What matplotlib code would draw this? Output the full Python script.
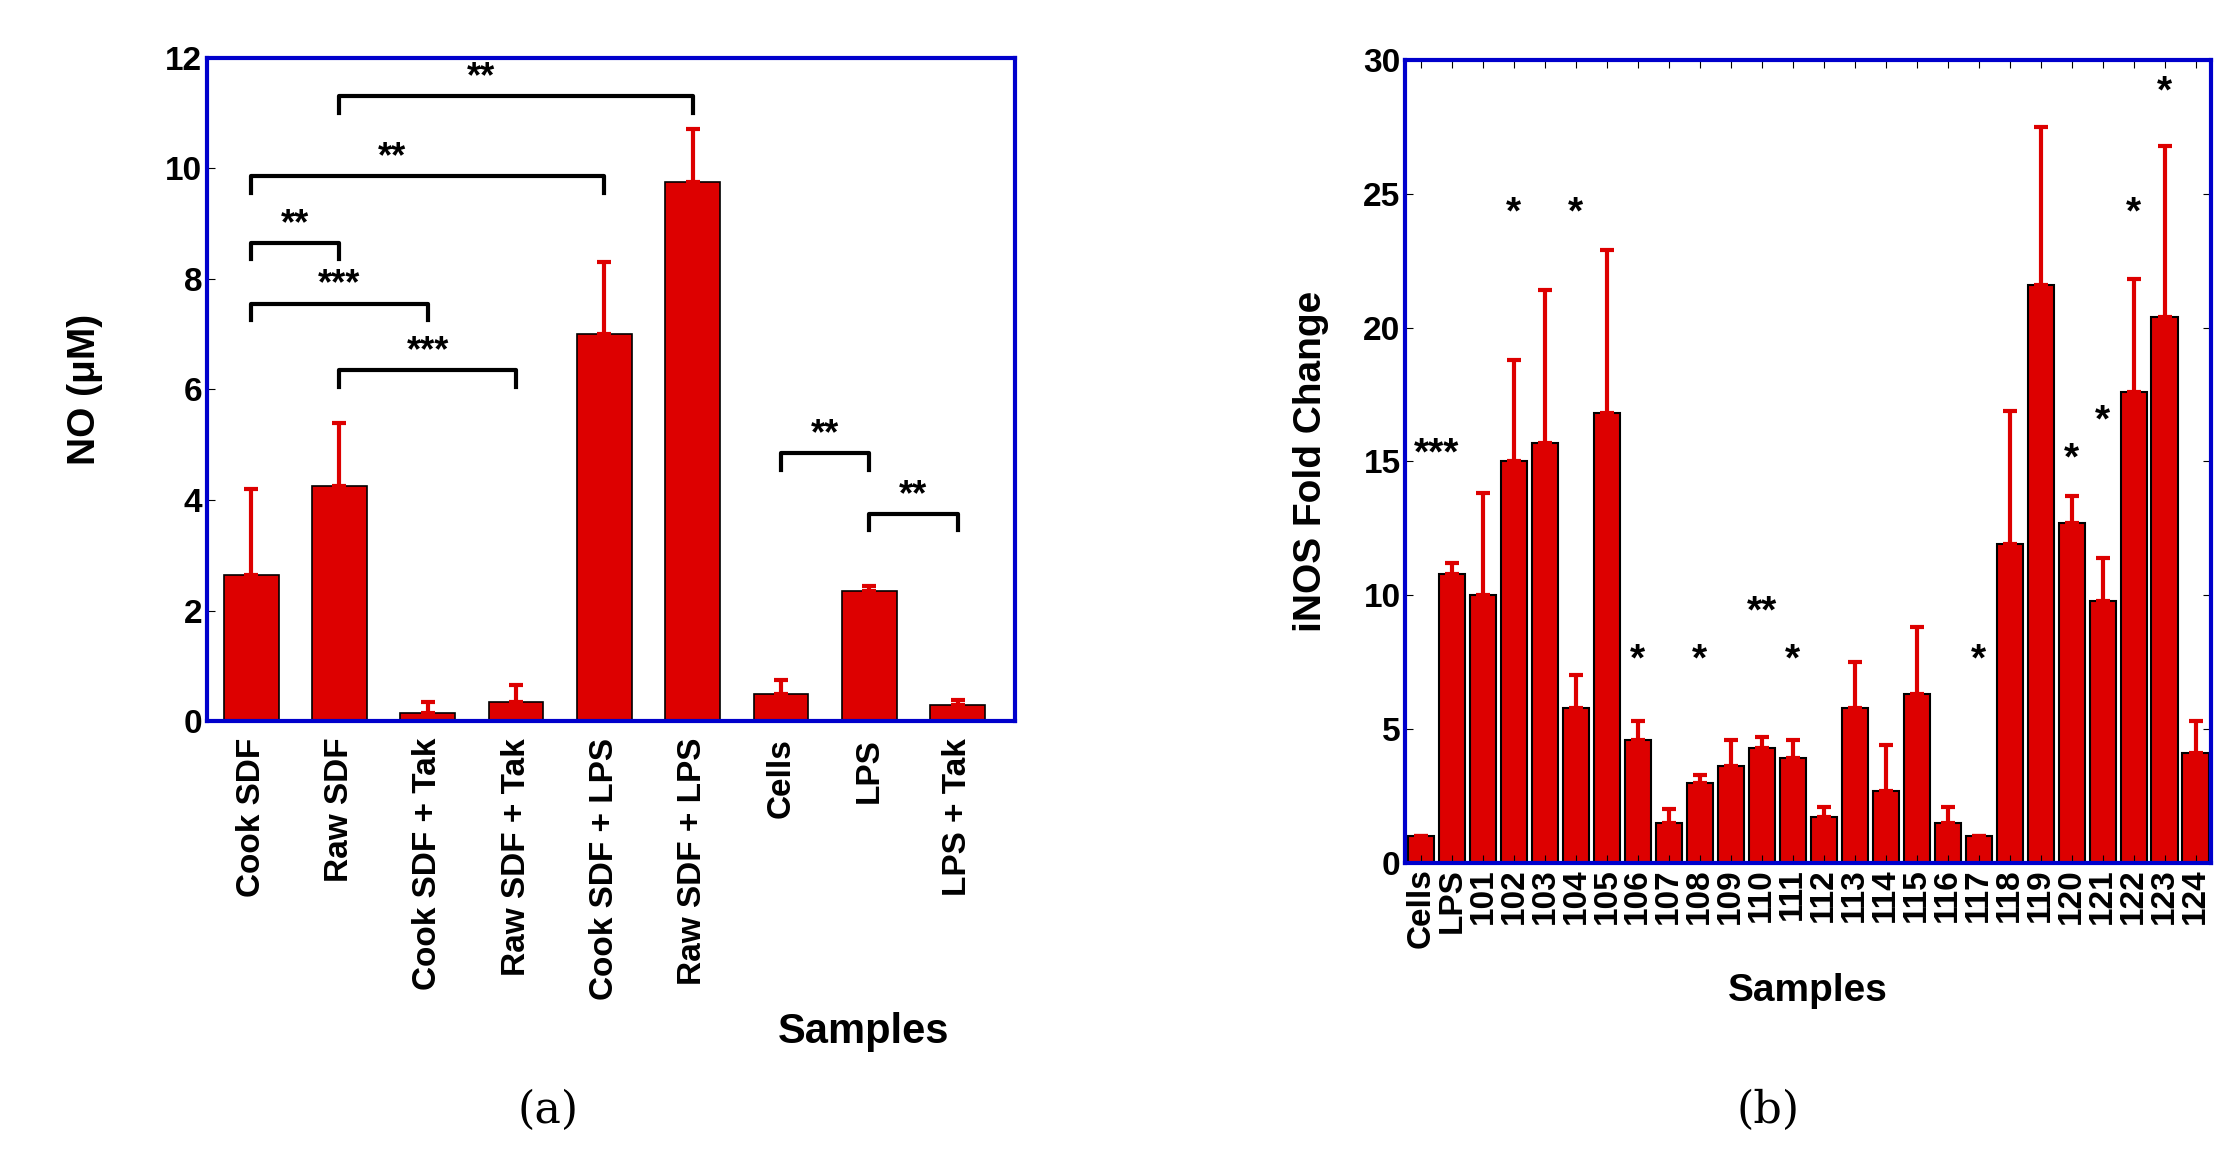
import matplotlib.pyplot as plt

plt.rcParams['font.family'] = 'Liberation Sans'
plt.rcParams['font.weight'] = 'bold'

# Panel (a) data
a_labels = ['Cook SDF', 'Raw SDF', 'Cook SDF + Tak', 'Raw SDF + Tak', 'Cook SDF + LPS',
            'Raw SDF + LPS', 'Cells', 'LPS', 'LPS + Tak']
a_values = [2.65, 4.25, 0.15, 0.35, 7.0, 9.75, 0.5, 2.35, 0.3]
a_err = [1.55, 1.15, 0.2, 0.3, 1.3, 0.95, 0.25, 0.1, 0.08]
# brackets: (start, end, height, text)
a_brackets = [(0, 1, 8.65, '**'), (0, 2, 7.55, '***'), (1, 3, 6.35, '***'),
              (0, 4, 9.85, '**'), (1, 5, 11.3, '**'), (6, 7, 4.85, '**'), (7, 8, 3.75, '**')]

# Panel (b) data
b_labels = ['Cells', 'LPS'] + [str(n) for n in range(101, 125)]
b_values = [1.0, 10.8, 10.0, 15.0, 15.7, 5.8, 16.8, 4.6, 1.5, 3.0, 3.6, 4.3, 3.9, 1.7,
            5.8, 2.7, 6.3, 1.5, 1.0, 11.9, 21.6, 12.7, 9.8, 17.6, 20.4, 4.1]
b_top = [1.0, 11.2, 13.8, 18.8, 21.4, 7.0, 22.9, 5.3, 2.0, 3.3, 4.6, 4.7, 4.6, 2.1,
         7.5, 4.4, 8.8, 2.1, 1.0, 16.9, 27.5, 13.7, 11.4, 21.8, 26.8, 5.3]
b_err = [t - v for t, v in zip(b_top, b_values)]
# significance marks: (x, y, text)
b_marks = [(0.5, 14.6, '***'), (3, 23.6, '*'), (5, 23.6, '*'), (7, 6.9, '*'), (9, 6.9, '*'),
           (11, 8.7, '**'), (12, 6.9, '*'), (18, 6.9, '*'), (21, 14.4, '*'), (22, 15.8, '*'),
           (23, 23.6, '*'), (24, 28.1, '*')]

red = '#dd0000'
blue = '#0000cc'

fig = plt.figure(figsize=(22.38, 11.52), dpi=100)

# ---- panel (a)
ax1 = fig.add_axes([0.0925, 0.374, 0.361, 0.576])
xa = list(range(len(a_values)))
ax1.bar(xa, a_values, width=0.62, color=red, edgecolor='black', linewidth=1.2,
        yerr=[[0] * len(a_err), a_err], error_kw=dict(ecolor=red, elinewidth=3, capsize=5, capthick=3))
ax1.set_xlim(-0.5, 8.65)
ax1.set_ylim(0, 12)
ax1.set_yticks(range(0, 13, 2))
ax1.set_xticks(xa)
ax1.set_xticklabels(a_labels, rotation=90, fontsize=24, fontweight='bold')
ax1.tick_params(axis='y', labelsize=24, direction='in', length=6)
ax1.tick_params(axis='x', length=0, pad=12)
ax1.set_ylabel('NO (\u03bcM)', fontsize=28, fontweight='bold', labelpad=45)
for s in ax1.spines.values():
    s.set_color(blue)
    s.set_linewidth(3)
for x0, x1, h, t in a_brackets:
    ax1.plot([x0, x0, x1, x1], [h - 0.3, h, h, h - 0.3], color='black', lw=3)
    tx = (x0 + x1) / 2 if x1 - x0 < 4 else (x0 + x1) / 2 - 0.4
    ax1.text(tx, h + 0.02, t, ha='center', va='bottom', fontsize=26, fontweight='bold')
fig.text(0.386, 0.095, 'Samples', fontsize=30, fontweight='bold', ha='center')
fig.text(0.245, 0.025, '(a)', fontsize=32, family='DejaVu Serif', fontweight='normal', ha='center')

# ---- panel (b)
ax2 = fig.add_axes([0.628, 0.251, 0.360, 0.697])
xb = list(range(len(b_values)))
ax2.bar(xb, b_values, width=0.85, color=red, edgecolor='black', linewidth=1.5,
        yerr=[[0] * len(b_err), b_err], error_kw=dict(ecolor=red, elinewidth=3, capsize=5, capthick=3))
ax2.set_xlim(-0.5, 25.5)
ax2.set_ylim(0, 30)
ax2.set_yticks(range(0, 31, 5))
ax2.set_xticks(xb)
ax2.set_xticklabels(b_labels, rotation=90, fontsize=24, fontweight='bold')
ax2.tick_params(axis='y', labelsize=24, direction='in', length=6, right=True)
ax2.tick_params(axis='x', direction='in', length=6, top=True, pad=4)
ax2.set_ylabel('iNOS Fold Change', fontsize=28, fontweight='bold', labelpad=25)
ax2.set_xlabel('Samples', fontsize=28, fontweight='bold', labelpad=18)
for s in ax2.spines.values():
    s.set_color(blue)
    s.set_linewidth(3)
for x, y, t in b_marks:
    ax2.text(x, y, t, ha='center', va='bottom', fontsize=28, fontweight='bold')
fig.text(0.79, 0.025, '(b)', fontsize=32, family='DejaVu Serif', fontweight='normal', ha='center')

fig.savefig('out.png', dpi=100)
